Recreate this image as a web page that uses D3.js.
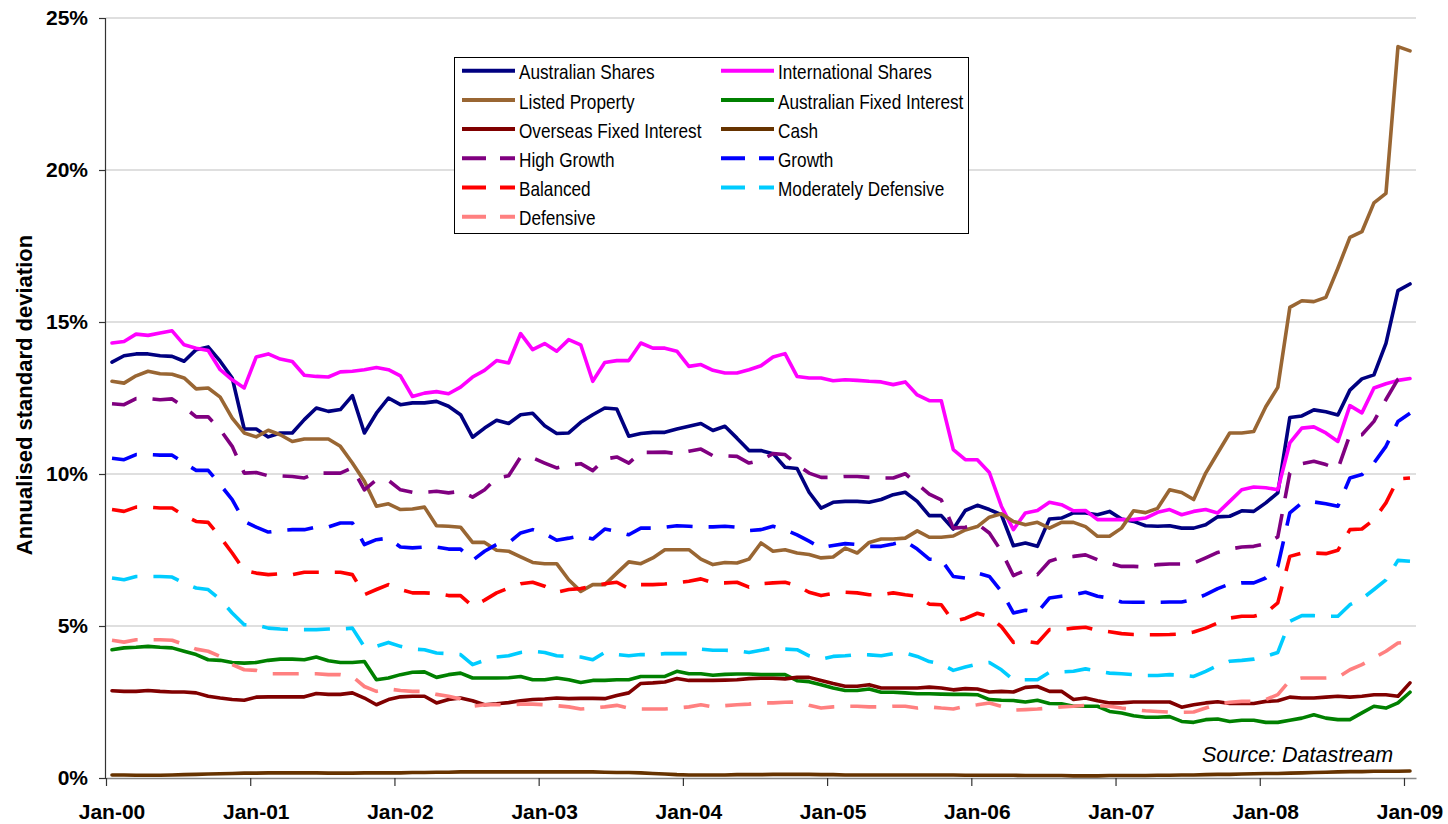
<!DOCTYPE html>
<html>
<head>
<meta charset="utf-8">
<script src="https://cdn.jsdelivr.net/npm/d3@7"></script>
<style>
  html, body { margin: 0; padding: 0; background: #fff; }
  svg { display: block; font-family: Arial, "Liberation Sans", sans-serif; }
</style>
</head>
<body>
<svg id="chart" width="1448" height="824"></svg>
<script>
// ---------- data ----------
const tickLabels = ["Jan-00","Jan-01","Jan-02","Jan-03","Jan-04","Jan-05","Jan-06","Jan-07","Jan-08","Jan-09"];
const months = d3.timeMonth.range(new Date(2000, 0, 1), new Date(2009, 1, 1)); // Jan-00 .. Jan-09

const australianShares = [13.68,13.89,13.95,13.95,13.89,13.87,13.71,14.09,14.18,13.71,13.16,11.48,11.48,11.22,11.35,11.35,11.79,12.17,12.06,12.12,12.58,11.35,12.0,
 12.5,12.28,12.34,12.34,12.39,12.23,11.95,11.21,11.51,11.77,11.66,11.95,12.0,11.59,11.33,11.35,11.7,11.95,12.17,12.14,11.24,11.33,
 11.37,11.37,11.48,11.57,11.66,11.43,11.57,11.18,10.77,10.77,10.67,10.22,10.18,9.4,8.88,9.07,9.1,9.1,9.07,9.16,9.32,9.4,9.1,
 8.63,8.63,8.19,8.8,8.97,8.83,8.66,7.64,7.73,7.62,8.52,8.55,8.72,8.72,8.66,8.77,8.52,8.44,8.3,8.28,8.3,8.22,
 8.22,8.33,8.59,8.61,8.79,8.77,9.05,9.38,11.86,11.91,12.11,12.05,11.94,12.76,13.13,13.26,14.3,16.03,16.25];
const internationalShares = [14.31,14.36,14.6,14.56,14.64,14.71,14.25,14.14,14.06,13.43,13.1,12.83,13.85,13.95,13.78,13.7,13.25,13.21,13.19,13.36,13.38,13.43,13.5,
 13.43,13.23,12.55,12.66,12.71,12.64,12.86,13.19,13.41,13.73,13.65,14.62,14.09,14.29,14.04,14.42,14.25,13.05,13.67,13.73,13.73,14.31,
 14.14,14.14,14.04,13.54,13.6,13.41,13.32,13.32,13.43,13.56,13.85,13.96,13.21,13.16,13.16,13.07,13.1,13.08,13.05,13.03,12.94,13.03,12.6,
 12.41,12.41,10.8,10.47,10.47,10.05,8.94,8.17,8.72,8.8,9.07,8.99,8.79,8.8,8.5,8.5,8.5,8.5,8.55,8.74,8.83,8.66,
 8.77,8.83,8.72,9.1,9.48,9.57,9.55,9.48,11.02,11.51,11.55,11.35,11.07,12.25,12.01,12.83,12.97,13.08,13.14];
const listedProperty = [13.05,12.99,13.23,13.38,13.3,13.28,13.16,12.8,12.83,12.53,11.84,11.35,11.22,11.44,11.29,11.07,11.15,11.15,11.15,10.91,10.36,9.76,8.94,
 9.02,8.83,8.85,8.91,8.3,8.28,8.25,7.75,7.75,7.49,7.46,7.27,7.09,7.05,7.05,6.52,6.14,6.36,6.36,6.74,7.11,7.05,
 7.24,7.51,7.51,7.51,7.2,7.02,7.09,7.07,7.2,7.73,7.46,7.51,7.4,7.35,7.24,7.27,7.56,7.4,7.75,7.86,7.86,7.89,8.13,
 7.92,7.92,7.96,8.16,8.27,8.58,8.69,8.44,8.33,8.41,8.22,8.41,8.41,8.27,7.95,7.95,8.22,8.79,8.73,8.87,9.48,9.39,
 9.16,10.03,10.69,11.35,11.35,11.4,12.21,12.85,15.48,15.7,15.67,15.81,16.77,17.78,17.97,18.92,19.23,24.06,23.92];
const australianFixedInterest = [4.22,4.28,4.3,4.33,4.3,4.28,4.17,4.06,3.89,3.87,3.8,3.78,3.8,3.87,3.91,3.91,3.89,3.98,3.86,3.8,3.8,3.83,3.23,
 3.29,3.4,3.48,3.49,3.31,3.4,3.45,3.29,3.29,3.29,3.3,3.34,3.23,3.23,3.29,3.23,3.14,3.21,3.21,3.23,3.23,3.34,
 3.34,3.34,3.51,3.43,3.43,3.38,3.41,3.42,3.42,3.4,3.4,3.4,3.2,3.17,3.07,2.96,2.88,2.88,2.93,2.82,2.82,2.8,2.77,
 2.77,2.76,2.75,2.75,2.74,2.58,2.56,2.55,2.5,2.56,2.45,2.44,2.36,2.36,2.36,2.19,2.14,2.05,2.0,2.0,2.02,1.86,
 1.83,1.92,1.94,1.86,1.9,1.9,1.83,1.83,1.9,1.97,2.08,1.97,1.92,1.92,2.14,2.36,2.3,2.47,2.82];
const overseasFixedInterest = [2.87,2.85,2.85,2.88,2.85,2.83,2.83,2.8,2.69,2.63,2.58,2.56,2.66,2.67,2.67,2.67,2.67,2.78,2.75,2.75,2.8,2.63,2.41,
 2.58,2.67,2.69,2.69,2.47,2.58,2.63,2.54,2.41,2.44,2.48,2.54,2.58,2.6,2.63,2.61,2.62,2.62,2.61,2.71,2.8,3.11,
 3.13,3.16,3.27,3.21,3.21,3.21,3.22,3.23,3.27,3.28,3.28,3.26,3.31,3.31,3.21,3.11,3.02,3.02,3.07,2.96,2.96,2.96,2.96,
 2.99,2.96,2.9,2.94,2.93,2.83,2.85,2.83,2.98,3.01,2.85,2.85,2.58,2.63,2.54,2.47,2.47,2.5,2.5,2.5,2.5,2.33,
 2.41,2.47,2.51,2.45,2.45,2.45,2.52,2.54,2.66,2.63,2.63,2.66,2.69,2.66,2.69,2.74,2.74,2.69,3.13];
const cash = [0.10,0.10,0.09,0.09,0.09,0.10,0.11,0.12,0.13,0.14,0.15,0.16,
 0.16,0.17,0.17,0.17,0.17,0.17,0.16,0.16,0.16,0.17,0.17,0.17,
 0.17,0.18,0.18,0.19,0.19,0.20,0.20,0.20,0.20,0.20,0.20,0.20,
 0.20,0.20,0.20,0.20,0.20,0.19,0.18,0.18,0.17,0.15,0.13,0.11,
 0.10,0.10,0.10,0.10,0.11,0.11,0.11,0.12,0.12,0.12,0.12,0.11,
 0.11,0.10,0.10,0.10,0.10,0.10,0.10,0.10,0.10,0.10,0.10,0.09,
 0.09,0.09,0.09,0.09,0.08,0.08,0.08,0.08,0.07,0.07,0.07,0.08,
 0.08,0.08,0.08,0.09,0.09,0.10,0.10,0.11,0.12,0.12,0.13,0.14,
 0.15,0.15,0.16,0.17,0.18,0.19,0.20,0.21,0.21,0.22,0.22,0.22,0.23];
const highGrowth = [12.31,12.28,12.48,12.48,12.44,12.47,12.2,11.88,11.88,11.46,10.91,10.03,10.05,9.94,9.94,9.92,9.87,10.03,10.03,10.03,10.2,9.48,9.81,
 9.79,9.48,9.4,9.4,9.43,9.38,9.43,9.24,9.48,9.87,9.94,10.56,10.53,10.36,10.2,10.29,10.34,10.11,10.49,10.56,10.36,10.71,
 10.71,10.72,10.67,10.75,10.82,10.6,10.6,10.58,10.36,10.45,10.67,10.64,10.31,10.03,9.89,9.89,9.92,9.92,9.89,9.87,9.87,10.01,9.67,
 9.34,9.15,8.22,8.25,8.36,8.06,7.46,6.66,6.83,6.69,7.13,7.26,7.29,7.34,7.18,7.07,6.96,6.96,6.94,7.02,7.04,7.04,
 7.07,7.24,7.42,7.53,7.6,7.62,7.71,7.93,10.03,10.34,10.42,10.31,10.16,11.29,11.29,11.73,12.45,13.12,13.38];
const growth = [10.52,10.47,10.64,10.64,10.62,10.62,10.36,10.12,10.12,9.65,9.16,8.44,8.25,8.09,8.14,8.17,8.17,8.26,8.26,8.39,8.39,7.68,7.84,
 7.89,7.6,7.57,7.6,7.6,7.53,7.53,7.16,7.46,7.68,7.73,8.06,8.17,8.04,7.82,7.89,7.97,7.86,8.19,8.11,8.0,8.22,
 8.22,8.25,8.3,8.28,8.26,8.26,8.28,8.25,8.14,8.17,8.28,8.17,8.0,7.79,7.57,7.65,7.71,7.68,7.62,7.62,7.7,7.79,7.53,
 7.2,7.18,6.63,6.58,6.74,6.63,6.14,5.43,5.52,5.45,5.92,5.98,6.03,6.11,5.98,5.92,5.79,5.78,5.78,5.78,5.79,5.79,
 5.87,6.03,6.23,6.38,6.42,6.42,6.58,6.96,8.72,9.05,9.08,9.02,8.94,9.87,9.98,10.36,10.91,11.73,12.0];
const balanced = [8.83,8.77,8.91,8.91,8.88,8.88,8.63,8.44,8.41,7.93,7.4,6.83,6.74,6.69,6.72,6.69,6.77,6.77,6.77,6.77,6.69,6.03,6.2,
 6.36,6.2,6.09,6.09,6.07,6.0,6.0,5.65,5.85,6.09,6.25,6.39,6.44,6.31,6.11,6.2,6.23,6.31,6.39,6.44,6.23,6.36,
 6.36,6.38,6.42,6.47,6.55,6.42,6.42,6.44,6.28,6.39,6.42,6.44,6.33,6.11,6.0,6.07,6.11,6.09,6.03,6.03,6.09,6.03,5.98,
 5.72,5.7,5.15,5.25,5.42,5.31,4.98,4.46,4.5,4.44,4.88,4.88,4.93,4.96,4.86,4.81,4.75,4.72,4.71,4.71,4.72,4.74,
 4.8,4.93,5.1,5.26,5.32,5.32,5.43,5.76,7.29,7.4,7.4,7.38,7.49,8.17,8.19,8.5,9.05,9.84,9.87];
const moderatelyDefensive = [6.58,6.52,6.63,6.63,6.63,6.61,6.41,6.25,6.2,5.87,5.43,5.04,5.04,4.93,4.9,4.88,4.88,4.88,4.9,4.9,4.93,4.31,4.33,
 4.46,4.33,4.24,4.22,4.11,4.09,4.06,3.73,3.87,3.98,4.02,4.13,4.17,4.13,4.02,4.0,3.98,3.89,4.13,4.06,4.02,4.06,
 4.06,4.09,4.09,4.09,4.24,4.2,4.2,4.19,4.13,4.2,4.28,4.24,4.22,4.02,3.91,4.0,4.02,4.06,4.05,4.02,4.09,4.11,4.0,
 3.83,3.75,3.54,3.65,3.75,3.8,3.56,3.23,3.23,3.23,3.48,3.49,3.51,3.59,3.51,3.45,3.43,3.4,3.37,3.37,3.4,3.38,
 3.34,3.51,3.7,3.84,3.87,3.91,4.0,4.13,5.15,5.34,5.34,5.32,5.32,5.7,5.89,6.2,6.52,7.16,7.13];
const defensive = [4.53,4.47,4.55,4.55,4.55,4.53,4.39,4.24,4.17,4.0,3.73,3.56,3.54,3.43,3.43,3.43,3.43,3.43,3.4,3.4,3.34,3.01,2.85,
 2.93,2.88,2.85,2.85,2.75,2.69,2.6,2.36,2.41,2.41,2.41,2.43,2.43,2.41,2.38,2.34,2.27,2.3,2.34,2.39,2.3,2.27,
 2.27,2.27,2.3,2.34,2.41,2.34,2.38,2.41,2.43,2.47,2.47,2.49,2.5,2.39,2.3,2.34,2.36,2.36,2.34,2.34,2.36,2.36,2.3,
 2.34,2.3,2.27,2.36,2.41,2.47,2.36,2.23,2.25,2.27,2.3,2.34,2.36,2.39,2.38,2.36,2.3,2.25,2.21,2.19,2.17,2.16,
 2.17,2.3,2.43,2.49,2.52,2.52,2.58,2.74,3.21,3.29,3.29,3.29,3.31,3.56,3.73,3.95,4.17,4.44,4.47];

const seriesNames = ["Australian Shares","International Shares","Listed Property","Australian Fixed Interest",
  "Overseas Fixed Interest","Cash","High Growth","Growth","Balanced","Moderately Defensive","Defensive"];
const seriesValues = [australianShares, internationalShares, listedProperty, australianFixedInterest,
  overseasFixedInterest, cash, highGrowth, growth, balanced, moderatelyDefensive, defensive];
const seriesColors = ["#000080","#FF00FF","#996633","#008000","#800000","#663300",
  "#800080","#0000FF","#FF0000","#00CCFF","#FF8080"];
const seriesDashed = [false,false,false,false,false,false,true,true,true,true,true];
const yTicks = [0,5,10,15,20,25];

// ---------- layout ----------
const svg = d3.select("#chart");
const L = 106, R = 1416, T = 18, B = 778;

const xBand = d3.scaleBand().domain(d3.range(months.length)).range([L, R]).paddingInner(0).paddingOuter(0);
const xc = i => xBand(i) + xBand.bandwidth() / 2;
const y = d3.scaleLinear().domain([0, 25]).range([B, T]);

svg.append("rect").attr("width", 1448).attr("height", 824).attr("fill", "#fff");

// gridlines
svg.append("g").selectAll("line").data(yTicks.filter(d => d > 0)).join("line")
  .attr("x1", L).attr("x2", R).attr("y1", d => y(d)).attr("y2", d => y(d))
  .attr("stroke", "#c0c0c0").attr("stroke-width", 1.2);

// y axis
const yAxis = svg.append("g").attr("transform", `translate(${L},0)`)
  .call(d3.axisLeft(y).tickValues(yTicks).tickFormat(d => d + "%").tickSize(7).tickPadding(11));
yAxis.select(".domain").attr("stroke", "#333").attr("stroke-width", 1.2).attr("d", `M-0.5,${T}V${B}`);
yAxis.selectAll(".tick line").attr("stroke", "#333").attr("stroke-width", 1.2);
yAxis.selectAll("text").attr("font-size", 21).attr("font-weight", "bold").attr("fill", "#000")
  .attr("font-family", "Arial, 'Liberation Sans', sans-serif");

// x axis ticks (year boundaries)
const yearIdx = d3.range(0, 109, 12);
const xTickScale = d3.scaleLinear().domain([0, months.length]).range([L, R]);
const xAxis = svg.append("g").attr("transform", `translate(0,${B})`)
  .call(d3.axisBottom(xTickScale).tickValues(yearIdx).tickFormat("").tickSize(8).tickSizeOuter(0));
xAxis.select(".domain").attr("stroke", "#888").attr("stroke-width", 1.5);
xAxis.selectAll(".tick line").attr("stroke", "#333").attr("stroke-width", 1.2);

// x labels (centred on the January month)
svg.append("g").selectAll("text").data(yearIdx).join("text")
  .attr("x", d => xc(d)).attr("y", 819)
  .attr("text-anchor", "middle").attr("font-size", 21).attr("font-weight", "bold")
  .text((d, i) => tickLabels[i]);

// y title
svg.append("text")
  .attr("transform", "translate(32,395) rotate(-90)")
  .attr("text-anchor", "middle").attr("font-size", 22).attr("font-weight", "bold")
  .text("Annualised standard deviation");

// lines
const line = d3.line().x((d, i) => xc(i)).y(d => y(d));
const gLines = svg.append("g");
seriesValues.forEach((vals, k) => {
  gLines.append("path")
    .attr("d", line(vals))
    .attr("fill", "none")
    .attr("stroke", seriesColors[k])
    .attr("stroke-width", 3.6)
    .attr("stroke-linejoin", "round")
    .attr("stroke-linecap", seriesDashed[k] ? "butt" : "round")
    .attr("stroke-dasharray", seriesDashed[k] ? "26,16" : null);
});

// source
svg.append("text").attr("x", 1202).attr("y", 762)
  .attr("font-size", 21.5).attr("font-style", "italic").text("Source: Datastream");

// legend
const lg = svg.append("g");
lg.append("rect").attr("x", 454.5).attr("y", 57.5).attr("width", 514).attr("height", 176)
  .attr("fill", "#fff").attr("stroke", "#000").attr("stroke-width", 1);
seriesNames.forEach((name, k) => {
  const row = Math.floor(k / 2), col = k % 2;
  const ly = 70.7 + row * 29.2;
  const lx = col === 0 ? 462 : 721;
  lg.append("line").attr("x1", lx).attr("x2", lx + 53).attr("y1", ly).attr("y2", ly)
    .attr("stroke", seriesColors[k]).attr("stroke-width", 4)
    .attr("stroke-dasharray", seriesDashed[k] ? "24,14" : null);
  lg.append("text")
    .attr("transform", `translate(${lx + 57},${ly + 8.6}) scale(0.86,1)`)
    .attr("font-size", 20).text(name);
});
</script>
</body>
</html>
